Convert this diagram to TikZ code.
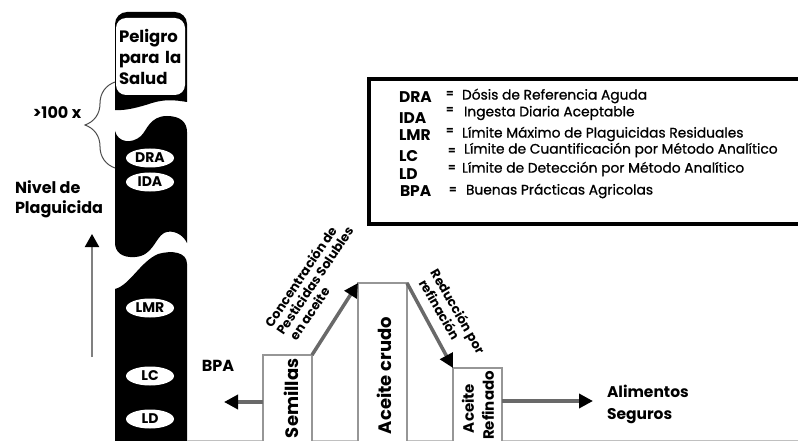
\documentclass[tikz,border=0pt]{standalone}
\usepackage{fontspec}
\setmainfont{Poppins}
\usetikzlibrary{arrows.meta,decorations.pathreplacing,shapes.geometric}
\definecolor{flowgray}{RGB}{105,105,105}
\definecolor{boxgray}{RGB}{150,150,150}
\begin{document}
\begin{tikzpicture}[x=1pt,y=-1pt,
  every node/.style={inner sep=0pt, outer sep=0pt},
  lbl/.style={font=\fontsize{16}{20}\selectfont\bfseries},
  oval/.style={ellipse, fill=white, minimum width=48pt, minimum height=19pt, font=\fontsize{14}{14}\selectfont\bfseries},
  stagebox/.style={draw=boxgray, line width=1.2pt, fill=white, anchor=north west, minimum width=49pt},
  boxtxt/.style={font=\fontsize{18}{18}\selectfont\bfseries, rotate=90},
  boxtxtb/.style={font=\fontsize{15}{15}\selectfont\bfseries, rotate=90},
  rotlbl/.style={font=\fontsize{12.8}{14}\selectfont\bfseries, align=left, anchor=west},
  flow/.style={line width=3.5pt, draw=flowgray, -{Triangle[length=14pt,width=14pt,color=black,fill=black]}},
  abbr/.style={font=\fontsize{15.5}{15.5}\selectfont\bfseries, anchor=west},
  eqs/.style={font=\fontsize{11}{11}\selectfont\bfseries},
  desc/.style={font=\fontsize{13.8}{13.8}\selectfont\addfontfeature{FakeBold=0.8}, anchor=west}
]
\useasboundingbox (0,0) rectangle (798,441);
\fill[white] (0,0) rectangle (798,441);

% ---- black column ----
\fill[black] (115,110) [rounded corners=12pt] -- (115,12) -- (187,12) [sharp corners] -- (187,102)
  .. controls (175,100) and (165,99) .. (152,103) .. controls (140,107) and (125,111) .. (115,110) -- cycle;
\fill[black] (115,131) .. controls (118,143) and (132,144) .. (141,136)
  .. controls (147,130) and (150,116) .. (167,116) .. controls (180,116) and (187,122) .. (187,132)
  -- (187,243) .. controls (183,234) and (172,229) .. (164,233)
  .. controls (155,238) and (153,256) .. (135,257) .. controls (122,258) and (115,252) .. (115,243) -- cycle;
\fill[black] (115,289) .. controls (130,285) and (140,262) .. (158,254)
  .. controls (172,250) and (187,252) .. (187,264) -- (187,446) -- (115,446) -- cycle;

\node[rounded corners=10pt, fill=white, minimum width=69pt, minimum height=77pt, anchor=north west,
      text width=63pt, inner xsep=3pt, align=left, font=\fontsize{16.5}{21}\selectfont\bfseries]
      (peligro) at (116,18) {Peligro\\para la\\Salud};

\node[oval] (dra) at (150,158) {DRA};
\node[oval] (ida) at (150,182) {IDA};
\node[oval] (lmr) at (150,308) {LMR};
\node[oval] (lc) at (150,376) {LC};
\node[oval] (ld) at (150,419) {LD};

% ---- brace and level arrow ----
\coordinate (brtop) at (115,82);
\coordinate (brbot) at (115,168);
\draw[line width=1pt, black!70, decorate, decoration={brace, amplitude=30pt}] (brbot) -- (brtop);
\node[lbl] (hundred) at (57,113) {>100 x};
\node[lbl, anchor=north west, align=left] (nivel) at (15,181) {Nivel de\\Plaguicida};
\coordinate (vbot) at (92,357);
\coordinate (vtop) at (92,234);
\draw[line width=2pt, gray, -{Triangle[length=13pt,width=14pt,color=black,fill=black]}] (vbot) -- (vtop);

% ---- legend ----
\draw[line width=4.5pt] (369,79) rectangle (815,224);
\node[abbr] (kdra) at (399,97) {DRA};
\node[abbr] (kida) at (399,118) {IDA};
\node[abbr] (klmr) at (399,135) {LMR};
\node[abbr] (klc) at (399,156) {LC};
\node[abbr] (kld) at (399,174) {LD};
\node[abbr] (kbpa) at (400,191) {BPA};
\node[eqs] (edra) at (450,94) {=};
\node[eqs] (eida) at (450,110) {=};
\node[eqs] (elmr) at (450,131) {=};
\node[eqs] (elc) at (452,151) {=};
\node[eqs] (eld) at (452,168) {=};
\node[eqs] (ebpa) at (453,190) {=};
\node[desc] (ddra) at (462,96) {Dósis de Referencia Aguda};
\node[desc] (dida) at (464,113) {Ingesta Diaria Aceptable};
\node[desc] (dlmr) at (462,134) {Límite Máximo de Plaguicidas Residuales};
\node[desc] (dlc) at (464,150) {Límite de Cuantificación por Método Analítico};
\node[desc] (dld) at (462,169) {Límite de Detección por Método Analítico};
\node[desc] (dbpa) at (466,191) {Buenas Prácticas Agricolas};

% ---- flow ----
\draw[boxgray!60, line width=1pt] (187,440.5) -- (800,440.5);
\node[stagebox, minimum height=100pt] (sem) at (263,355) {};
\node[stagebox, minimum height=170pt] (cru) at (358,283) {};
\node[stagebox, minimum height=90pt] (ref) at (453,368) {};
\node[boxtxt, anchor=west] (tsem) at (291,438) {Semillas};
\node[boxtxt, anchor=west] (tcru) at (384,434) {Aceite crudo};
\node[boxtxtb, anchor=west] (tref1) at (468,433) {Aceite};
\node[boxtxtb, anchor=east] (tref2) at (488,371) {Refinado};

\coordinate (bpaend) at (224,402);
\draw[flow] (sem.west |- bpaend) -- (bpaend);
\node[lbl] (bpa) at (218,366) {BPA};
\draw[flow] (sem.north east) -- (cru.north west);
\draw[flow] (cru.north east) -- (ref.north west);
\coordinate (alimend) at (593,401);
\draw[flow] (ref.east |- alimend) -- (alimend);
\node[anchor=west, align=left, font=\fontsize{15.5}{22}\selectfont\bfseries] (alim) at (607,404) {Alimentos\\Seguros};

\node[rotlbl, rotate=56] (lconc) at (279,333) {Concentración de\\Pesticidas Solubles\\\hspace*{3pt}en aceite};
\node[rotlbl, rotate=-60] (lred) at (428,274) {Reducción por\\\hspace*{3pt}refinación};
\end{tikzpicture}
\end{document}
